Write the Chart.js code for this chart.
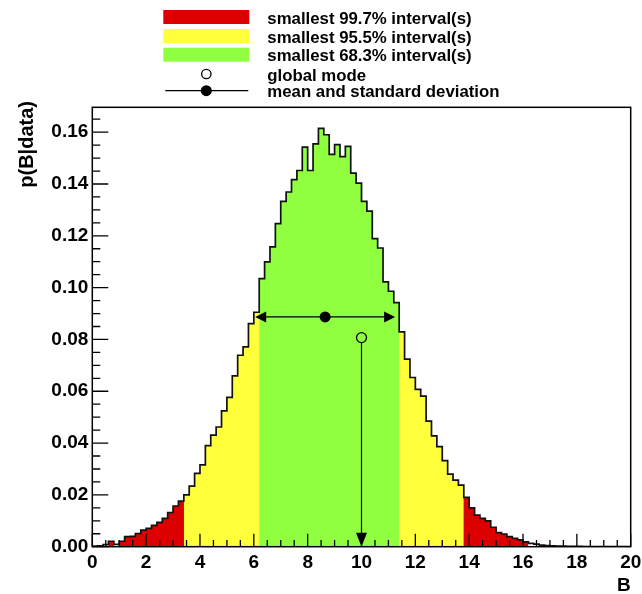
<!DOCTYPE html>
<html>
<head>
<meta charset="utf-8">
<title>p(B|data)</title>
<script src="https://cdn.jsdelivr.net/npm/chart.js@4.4.1/dist/chart.umd.min.js"></script>
<style>
  html, body { margin: 0; padding: 0; background: #fff; }
  canvas { display: block; }
</style>
</head>
<body>
<canvas id="posterior" width="642" height="594"></canvas>
<script>
// Marginalised posterior of B: 100 bins of width 0.2 on [0, 20]
const binWidth = 0.2;
const density = [
  0.0002, 0.0003, 0.0008, 0.0021, 0.0009, 0.0021, 0.0039, 0.0040, 0.0051, 0.0064,
  0.0071, 0.0082, 0.0094, 0.0109, 0.0132, 0.0157, 0.0176, 0.0200, 0.0234, 0.0283,
  0.0316, 0.0390, 0.0431, 0.0462, 0.0524, 0.0576, 0.0659, 0.0739, 0.0771, 0.0861,
  0.0905, 0.1035, 0.1099, 0.1157, 0.1247, 0.1333, 0.1369, 0.1417, 0.1452, 0.1542,
  0.1452, 0.1555, 0.1615, 0.1590, 0.1514, 0.1552, 0.1506, 0.1545, 0.1442, 0.1403,
  0.1333, 0.1295, 0.1189, 0.1153, 0.1022, 0.0986, 0.0942, 0.0829, 0.0724, 0.0653,
  0.0607, 0.0581, 0.0485, 0.0428, 0.0386, 0.0332, 0.0280, 0.0257, 0.0238, 0.0190,
  0.0150, 0.0122, 0.0109, 0.0100, 0.0075, 0.0054, 0.0049, 0.0039, 0.0032, 0.0026,
  0.0019, 0.0013, 0.0010, 0.0006, 0.0004, 0.0003, 0.0002, 0.0002, 0.0001, 0.0001,
  0.0001, 0, 0, 0, 0, 0, 0, 0, 0, 0
];
// lower edge of each bin
const binLow = density.map((_, i) => Math.round(i * binWidth * 10) / 10);

// smallest intervals (in B) for each probability level
const interval997 = [[0.6, 0.8], [1.0, 3.4], [13.8, 16.2]];
const interval955 = [[3.4, 6.2], [11.4, 13.8]];
const interval683 = [[6.2, 11.4]];

// summary markers
const globalMode = 10.0;
const modeMarkerY = 0.0807;
const meanB = 8.65;
const stdDevB = 2.6;
const meanMarkerY = 0.0887;

// axes
const xTickValues = [0, 2, 4, 6, 8, 10, 12, 14, 16, 18, 20];
const yTickValues = [0, 0.02, 0.04, 0.06, 0.08, 0.10, 0.12, 0.14, 0.16];
const yAxisMax = 0.1696;

const legendTexts = [
  'smallest 99.7% interval(s)',
  'smallest 95.5% interval(s)',
  'smallest 68.3% interval(s)',
  'global mode',
  'mean and standard deviation'
];

const RED = '#dd0000', YELLOW = '#ffff3c', GREEN = '#90ff40';
const FONT = "'Liberation Sans', Arial, Helvetica, sans-serif";

// merge touching intervals so that each colour band is one solid area
function mergeSpans(...lists) {
  const all = [].concat(...lists).map(s => s.slice()).sort((a, b) => a[0] - b[0]);
  const out = [];
  for (const s of all) {
    const last = out[out.length - 1];
    if (last && s[0] <= last[1] + 1e-9) last[1] = Math.max(last[1], s[1]);
    else out.push(s);
  }
  return out;
}

// step outline points (left bin edge, bin content) covering [lo, hi]
function stepPoints(lo, hi) {
  const pts = [];
  for (let i = 0; i < density.length; i++) {
    if (binLow[i] >= lo - 1e-9 && binLow[i] < hi - 1e-9) pts.push({ x: binLow[i], y: density[i] });
  }
  pts.push({ x: hi, y: pts[pts.length - 1].y });
  return pts;
}

function bandDatasets(spans, color, order) {
  return spans.map(([lo, hi]) => ({
    data: stepPoints(lo, hi),
    stepped: true,
    fill: 'origin',
    backgroundColor: color,
    borderWidth: 0,
    pointRadius: 0,
    order
  }));
}

const datasets = [
  // histogram outline on top
  {
    data: stepPoints(0, 20),
    stepped: true,
    fill: false,
    borderColor: '#111',
    borderWidth: 1.7,
    pointRadius: 0,
    order: 0
  },
  ...bandDatasets(mergeSpans(interval683), GREEN, 1),
  ...bandDatasets(mergeSpans(interval955, interval683), YELLOW, 2),
  ...bandDatasets(mergeSpans(interval997, interval955, interval683), RED, 3)
];

function arrowHead(ctx, tipX, tipY, dirX, dirY, len, half) {
  const bx = tipX - dirX * len, by = tipY - dirY * len;
  ctx.beginPath();
  ctx.moveTo(tipX, tipY);
  ctx.lineTo(bx - dirY * half, by + dirX * half);
  ctx.lineTo(bx + dirY * half, by - dirX * half);
  ctx.closePath();
  ctx.fill();
}

// frame, inward ticks, summary markers, y title and legend
const decorations = {
  id: 'decorations',
  afterDatasetsDraw(chart) {
    const { ctx, chartArea: a, scales: { x, y } } = chart;
    ctx.save();
    ctx.fillStyle = '#000';
    ctx.strokeStyle = '#000';

    // mean +- standard deviation
    const my = y.getPixelForValue(meanMarkerY);
    const xl = x.getPixelForValue(meanB - stdDevB);
    const xr = x.getPixelForValue(meanB + stdDevB);
    ctx.lineWidth = 1.2;
    ctx.beginPath(); ctx.moveTo(xl + 4, my); ctx.lineTo(xr - 4, my); ctx.stroke();
    arrowHead(ctx, xl, my, -1, 0, 11, 5.5);
    arrowHead(ctx, xr, my, 1, 0, 11, 5.5);
    ctx.beginPath(); ctx.arc(x.getPixelForValue(meanB), my, 5.5, 0, Math.PI * 2); ctx.fill();

    // global mode
    const gx = x.getPixelForValue(globalMode);
    const gy = y.getPixelForValue(modeMarkerY);
    const base = y.getPixelForValue(0);
    const r = 5;
    ctx.lineWidth = 1.2;
    ctx.beginPath(); ctx.moveTo(gx, gy + r); ctx.lineTo(gx, base - 6); ctx.stroke();
    arrowHead(ctx, gx, base, 0, 1, 14, 5.5);
    ctx.lineWidth = 1.3;
    ctx.beginPath(); ctx.arc(gx, gy, r, 0, Math.PI * 2); ctx.stroke();

    // ticks pointing into the frame
    ctx.lineWidth = 1.3;
    ctx.beginPath();
    for (let k = 0; k <= 40; k++) {
      const v = k * 0.5;
      const px = x.getPixelForValue(v);
      const len = (k % 4 === 0) ? 13 : 6.6;
      ctx.moveTo(px, a.bottom); ctx.lineTo(px, a.bottom - len);
    }
    for (let k = 0; k * 0.005 <= yAxisMax + 1e-9; k++) {
      const py = y.getPixelForValue(k * 0.005);
      const len = (k % 4 === 0) ? 16 : 8;
      ctx.moveTo(a.left, py); ctx.lineTo(a.left + len, py);
    }
    ctx.stroke();

    // frame
    ctx.lineWidth = 1.5;
    ctx.strokeRect(a.left, a.top, a.right - a.left, a.bottom - a.top);
    ctx.restore();
  },
  afterDraw(chart) {
    const { ctx } = chart;
    ctx.save();
    // y axis title, right-aligned near the top of the axis
    ctx.translate(27, 101);
    ctx.rotate(-Math.PI / 2);
    ctx.font = `bold 20px ${FONT}`;
    ctx.fillStyle = '#000';
    ctx.textAlign = 'right';
    ctx.textBaseline = 'middle';
    ctx.fillText('p(B|data)', 0, 0);
    ctx.restore();

    // legend
    ctx.save();
    const boxX = 163.3, boxW = 86, boxH = 14, textX = 267.3;
    const rowY = [17, 36, 54.7, 74, 90.7];
    [RED, YELLOW, GREEN].forEach((c, i) => {
      ctx.fillStyle = c;
      ctx.fillRect(boxX, rowY[i] - boxH / 2, boxW, boxH);
    });
    ctx.strokeStyle = '#000';
    ctx.fillStyle = '#000';
    ctx.lineWidth = 1.3;
    ctx.beginPath(); ctx.arc(boxX + boxW / 2, rowY[3], 4.7, 0, Math.PI * 2); ctx.stroke();
    ctx.lineWidth = 1.2;
    ctx.beginPath(); ctx.moveTo(boxX + 2, rowY[4]); ctx.lineTo(boxX + boxW - 1, rowY[4]); ctx.stroke();
    ctx.beginPath(); ctx.arc(boxX + boxW / 2, rowY[4], 5.5, 0, Math.PI * 2); ctx.fill();
    ctx.font = `bold 16.8px ${FONT}`;
    ctx.textAlign = 'left';
    ctx.textBaseline = 'alphabetic';
    legendTexts.forEach((t, i) => ctx.fillText(t, textX, rowY[i] + 6.7));
    ctx.restore();
  }
};

new Chart(document.getElementById('posterior'), {
  type: 'line',
  data: { datasets },
  plugins: [decorations],
  options: {
    responsive: false,
    animation: false,
    events: [],
    layout: { padding: { top: 107.3, right: 11.3, left: 0, bottom: 0 } },
    plugins: { legend: { display: false }, tooltip: { enabled: false } },
    scales: {
      x: {
        type: 'linear', min: 0, max: 20,
        afterBuildTicks: s => { s.ticks = xTickValues.map(v => ({ value: v })); },
        afterFit: s => { s.height = 47.3; s.paddingLeft = 0; s.paddingRight = 0; },
        grid: { display: false, drawTicks: false },
        border: { display: false },
        ticks: {
          color: '#000', padding: 5, maxRotation: 0, autoSkip: false,
          font: { family: FONT, size: 19, weight: 'bold' },
          callback: v => String(v)
        },
        title: {
          display: true, text: 'B', align: 'end', color: '#000', padding: 0,
          font: { family: FONT, size: 19, weight: 'bold', lineHeight: 0.9 }
        }
      },
      y: {
        type: 'linear', min: 0, max: yAxisMax,
        afterBuildTicks: s => { s.ticks = yTickValues.map(v => ({ value: v })); },
        afterFit: s => { s.width = 92.3; s.paddingTop = 0; s.paddingBottom = 0; },
        grid: { display: false, drawTicks: false },
        border: { display: false },
        ticks: {
          color: '#000', padding: 4,
          font: { family: FONT, size: 19, weight: 'bold' },
          callback: v => v.toFixed(2)
        }
      }
    }
  }
});
</script>
</body>
</html>
